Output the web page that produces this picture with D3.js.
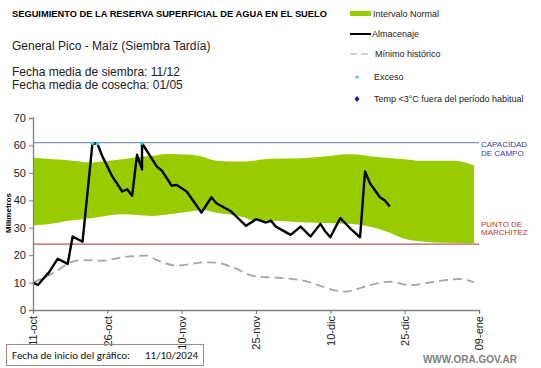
<!DOCTYPE html>
<html>
<head>
<meta charset="utf-8">
<script src="https://cdn.jsdelivr.net/npm/d3@7"></script>
<style>
  body { margin: 0; background: #fff; }
  text { font-family: Arial, "Liberation Sans", sans-serif; }
</style>
</head>
<body>
<div id="chart"></div>
<script>
// fecha de inicio del grafico
var inicio = new Date(2024, 9, 11)

// almacenaje (dias desde inicio, mm)
var almDias = [0, 1.7, 3, 3.8, 5.1, 7.8, 8.9, 10, 12, 13.5, 14.9, 16.5, 18.2, 19, 20.1, 21, 22, 22.9, 25, 26, 28, 29.7, 31, 34.7, 36, 37.7, 40.4, 43.9, 45.1, 47.1, 48, 49.8, 52.9, 54.2, 56.9, 58.3, 59.9, 60.9, 62.1, 64, 66, 67.2, 68.3, 70, 71, 72]
var almValores = [10, 9.1, 13.4, 13.1, 18.7, 16.8, 26.8, 24.9, 60.8, 60.6, 56, 48.7, 43.2, 44, 41.6, 56.6, 51.3, 60.8, 52.3, 50.8, 45.3, 45.6, 43.2, 35.5, 41.1, 38.9, 35.9, 30.7, 33.1, 31.9, 32.6, 30.4, 27.4, 30.4, 26.8, 31.4, 28.6, 26.5, 33.5, 29.8, 26.5, 50.5, 46.2, 41.1, 39.9, 37.7]

// intervalo normal
var normalDias = [0, 4, 6.8, 12, 13.5, 18.9, 21.6, 24.3, 27, 29.7, 32.3, 34.4, 37.7, 40.4, 43, 44.4, 48.5, 54.5, 57.9, 64.6, 70, 76.7, 78, 81.4, 85.2, 89.9]
var normalSup = [55.6, 55, 54.8, 53.8, 54, 55, 55.7, 56.2, 56.9, 56.8, 56.6, 56, 54.4, 54.1, 54.1, 54.3, 55.1, 55.3, 55.7, 56.8, 55.7, 54.8, 54.4, 54.4, 54.4, 52.7]
var normalInf = [30.8, 31.5, 32.2, 33.5, 33.8, 34.9, 34.6, 34.3, 34.8, 35.3, 36, 36.5, 35.5, 34.7, 33.5, 32.8, 32.6, 32, 31.8, 31.4, 29.4, 25.5, 25.1, 24.6, 24.4, 24.3]

// minimo historico
var minDias = [0, 4.1, 8.8, 10.8, 14.9, 18.9, 23.3, 25, 29.7, 35, 37.7, 40.4, 45.1, 49.2, 54.5, 63.3, 68, 72.4, 76.7, 81.4, 86.5, 89.9]
var minValores = [10, 13.4, 17.6, 18.2, 18, 19.2, 19.8, 18.2, 16.2, 17.4, 17.3, 15.8, 12.2, 11.8, 10.9, 6.7, 9.1, 10.3, 9.1, 10.3, 11.3, 10.1]

var capacidad = 61
var marchitez = 24
var yTicks = [0, 10, 20, 30, 40, 50, 60, 70]
var xTickDias = [0, 15, 30, 45, 60, 75, 90]

var margin = { left: 33, top: 118 }
var w = 446, h = 192

var svg = d3.select('#chart').append('svg')
    .attr('width', 541)
    .attr('height', 368)

var dia = function (d) { return d3.timeDay.offset(inicio, d) }

var xScale = d3.scaleTime()
    .domain([inicio, dia(90)])
    .range([margin.left, margin.left + w])
var yScale = d3.scaleLinear()
    .domain([0, 70])
    .range([margin.top + h, margin.top])

// banda normal
var banda = normalDias.map(function (d, i) { return { d: d, s: normalSup[i], i: normalInf[i] } })
svg.append('path')
    .datum(banda)
    .attr('fill', '#99cc00')
    .attr('d', d3.area()
        .x(function (d) { return xScale(dia(d.d)) })
        .y0(function (d) { return yScale(d.i) })
        .y1(function (d) { return yScale(d.s) })
        .curve(d3.curveMonotoneX))

// capacidad de campo y punto de marchitez
svg.append('line')
    .attr('x1', xScale(dia(0))).attr('x2', xScale(dia(90)))
    .attr('y1', yScale(capacidad)).attr('y2', yScale(capacidad))
    .attr('stroke', '#7f97c0').attr('stroke-width', 1.2)
svg.append('line')
    .attr('x1', xScale(dia(0))).attr('x2', xScale(dia(90)))
    .attr('y1', yScale(marchitez)).attr('y2', yScale(marchitez))
    .attr('stroke', '#b55a5a').attr('stroke-width', 1.2)

// minimo historico
var minimo = minDias.map(function (d, i) { return { d: d, v: minValores[i] } })
svg.append('path')
    .datum(minimo)
    .attr('fill', 'none')
    .attr('stroke', '#a6a6a6')
    .attr('stroke-width', 1.8)
    .attr('stroke-dasharray', '9,5')
    .attr('d', d3.line()
        .x(function (d) { return xScale(dia(d.d)) })
        .y(function (d) { return yScale(d.v) })
        .curve(d3.curveMonotoneX))

// almacenaje
var alm = almDias.map(function (d, i) { return { d: d, v: almValores[i] } })
svg.append('path')
    .datum(alm)
    .attr('fill', 'none')
    .attr('stroke', '#000')
    .attr('stroke-width', 2.4)
    .attr('stroke-linejoin', 'round')
    .attr('d', d3.line()
        .x(function (d) { return xScale(dia(d.d)) })
        .y(function (d) { return yScale(d.v) }))

// exceso
svg.selectAll('.exceso')
    .data(alm.filter(function (d) { return d.v >= capacidad - 0.5 }))
    .enter()
    .append('circle')
    .attr('class', 'exceso')
    .attr('cx', function (d) { return xScale(dia(d.d)) })
    .attr('cy', function (d) { return yScale(d.v) })
    .attr('r', 1.8)
    .attr('fill', '#33ccee')

// ejes
var yAxis = d3.axisLeft(yScale).tickValues(yTicks).tickSize(4).tickPadding(3)
var gy = svg.append('g')
    .attr('transform', 'translate(' + margin.left + ',0)')
    .call(yAxis)
gy.select('.domain').attr('stroke', '#808080').attr('stroke-width', 1.3)
gy.selectAll('.tick line').attr('stroke', '#808080')
gy.selectAll('text').attr('font-size', '11px').attr('fill', '#222')

var xAxis = d3.axisBottom(xScale)
    .tickValues(xTickDias.map(dia))
    .tickFormat(function (d) {
        var meses = ['ene', 'feb', 'mar', 'abr', 'may', 'jun', 'jul', 'ago', 'sep', 'oct', 'nov', 'dic']
        return d3.timeFormat('%d')(d).replace(/^0(?=[1-9])$/, '$&') + '-' + meses[d.getMonth()]
    })
    .tickSize(4)
var gx = svg.append('g')
    .attr('transform', 'translate(0,' + (margin.top + h) + ')')
    .call(xAxis)
gx.select('.domain').attr('stroke', '#808080').attr('stroke-width', 1.3)
gx.selectAll('.tick line').attr('stroke', '#808080')
gx.selectAll('text')
    .attr('font-size', '11px')
    .attr('fill', '#222')
    .attr('transform', 'rotate(-90)')
    .attr('text-anchor', 'end')
    .attr('x', -6)
    .attr('y', 0)
    .attr('dy', '0.35em')

svg.append('text')
    .attr('transform', 'rotate(-90)')
    .attr('x', -213).attr('y', 11)
    .attr('text-anchor', 'middle')
    .attr('font-size', '8px')
    .attr('font-weight', 'bold')
    .text('Milímetros')

// etiquetas derecha
svg.append('text').attr('x', 481).attr('y', 147).attr('font-size', '8px').attr('fill', '#3a3aa8').text('CAPACIDAD')
svg.append('text').attr('x', 481).attr('y', 156).attr('font-size', '8px').attr('fill', '#3a3aa8').text('DE  CAMPO')
svg.append('text').attr('x', 481).attr('y', 227).attr('font-size', '8px').attr('fill', '#c0392b').text('PUNTO  DE')
svg.append('text').attr('x', 481).attr('y', 235).attr('font-size', '8px').attr('fill', '#c0392b').text('MARCHITEZ')

// titulos
svg.append('text').attr('x', 12).attr('y', 17).attr('font-size', '9.3px').attr('font-weight', 'bold')
    .text('SEGUIMIENTO DE LA RESERVA  SUPERFICIAL DE AGUA EN EL SUELO')
svg.append('text').attr('x', 12).attr('y', 50).attr('font-size', '12px').attr('fill', '#222')
    .text('General Pico - Maíz  (Siembra Tardía)')
svg.append('text').attr('x', 12).attr('y', 76).attr('font-size', '12px').attr('fill', '#222')
    .text('Fecha media de siembra: 11/12')
svg.append('text').attr('x', 12).attr('y', 89).attr('font-size', '12px').attr('fill', '#222')
    .text('Fecha media de cosecha: 01/05')

// leyenda
var lx = 350
svg.append('rect').attr('x', lx).attr('y', 11).attr('width', 21).attr('height', 5).attr('fill', '#99cc00')
svg.append('text').attr('x', 373).attr('y', 17).attr('font-size', '9px').attr('fill', '#222').text('Intervalo Normal')
svg.append('line').attr('x1', lx).attr('x2', 371).attr('y1', 34).attr('y2', 34).attr('stroke', '#000').attr('stroke-width', 2)
svg.append('text').attr('x', 372).attr('y', 37).attr('font-size', '9px').attr('fill', '#222').text('Almacenaje')
svg.append('line').attr('x1', lx).attr('x2', 371).attr('y1', 54).attr('y2', 54).attr('stroke', '#a6a6a6').attr('stroke-width', 1.2).attr('stroke-dasharray', '7,4')
svg.append('text').attr('x', 375).attr('y', 57).attr('font-size', '9px').attr('fill', '#222').text('Mínimo histórico')
svg.append('circle').attr('cx', 357).attr('cy', 77).attr('r', 1.6).attr('fill', '#33ccee')
svg.append('text').attr('x', 374).attr('y', 80).attr('font-size', '9px').attr('fill', '#222').text('Exceso')
svg.append('path').attr('d', 'M357,96 L359.5,99 L357,102 L354.5,99 Z').attr('fill', '#1a1aa0')
svg.append('text').attr('x', 374).attr('y', 102).attr('font-size', '9px').attr('fill', '#222').text('Temp <3°C fuera del período habitual')

// pie
svg.append('rect').attr('x', 6.5).attr('y', 344.5).attr('width', 197).attr('height', 21)
    .attr('fill', 'none').attr('stroke', '#9e8a86').attr('stroke-width', 1)
svg.append('text').attr('x', 12).attr('y', 359).attr('font-size', '11px').attr('fill', '#111')
    .style('font-family', 'Carlito, "Open Sans", sans-serif')
    .text('Fecha de inicio del gráfico:')
svg.append('text').attr('x', 145).attr('y', 359).attr('font-size', '11px').attr('fill', '#111')
    .style('font-family', 'Carlito, "Open Sans", sans-serif')
    .text('11/10/2024')
svg.append('text').attr('x', 517).attr('y', 363).attr('text-anchor', 'end').attr('font-size', '10px')
    .attr('font-weight', 'bold').attr('fill', '#7f7f7f').text('WWW.ORA.GOV.AR')
</script>
</body>
</html>
